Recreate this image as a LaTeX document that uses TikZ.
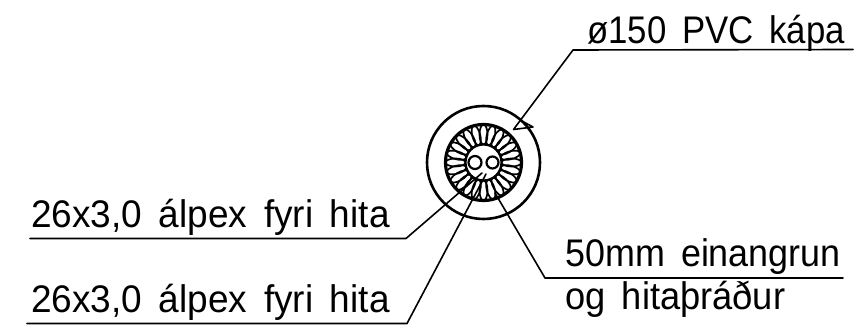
\documentclass[tikz,border=0pt]{standalone}
\usepackage{fontspec}
\setmainfont[WordSpace=1.62]{Liberation Sans}
\tikzset{
  lbl/.style={anchor=base west,inner sep=0pt,font=\fontsize{37}{37}\selectfont},
  shelf/.style={line width=1.6pt,line cap=round,line join=round},
  ring/.style={draw,circle,inner sep=0pt,line width=2.6pt},
  strand/.style={draw,line width=1.7pt},
}
\begin{document}
\begin{tikzpicture}[x=1pt,y=-1pt]
\useasboundingbox (0,0) rectangle (854,328);
% strands
\foreach \a in {0,15,...,350}{
  \draw[strand,shift={(483.5,162.5)},rotate=\a] (28,0) ellipse [x radius=10,y radius=4];
}
% cable
\node[ring,minimum size=113pt] (outer) at (483.5,162.5) {};
\node[ring,minimum size=76pt,line width=3.2pt] (inner) at (483.5,162.5) {};
\node[ring,minimum size=36pt,line width=2.2pt,fill=white] (core) at (483.5,162.5) {};
\node[ring,minimum size=13pt,line width=2.2pt] (c1) at (475,162.5) {};
\node[ring,minimum size=12pt,line width=2.2pt] (c2) at (492.5,162.5) {};
% labels
\node[lbl] (t1) at (587,43.5) {\scalebox{.94}[1.04]{ø150 PVC kápa}};
\node[lbl] (t2) at (31,228) {\scalebox{1}[1.04]{26x3,0 álpex fyri hita}};
\node[lbl] (t3) at (31,313) {\scalebox{1}[1.04]{26x3,0 álpex fyri hita}};
\node[lbl] (t4) at (565,267) {\scalebox{.97}[1.04]{50mm einangrun}};
\node[lbl] (t5) at (565,310) {\scalebox{.98}[1.04]{og hitaþráður}};
% leaders
\coordinate (a0) at (853,49.5);
\coordinate (a1) at (573,50);
\coordinate (a2) at (513.5,129.5);
\coordinate (a3) at (520,120);
\coordinate (a4) at (533,127);
\coordinate (b0) at (30,238.5);
\coordinate (b1) at (406,238.5);
\coordinate (b2) at (482,173);
\coordinate (c0) at (27,323.5);
\coordinate (c1e) at (407,323.5);
\coordinate (c2e) at (486,174);
\coordinate (d0) at (843,278);
\coordinate (d1) at (545,278);
\coordinate (d2) at (495,193);
\draw[shelf] (a0) -- (a1) -- (a2) -- (a4) -- (a3);
\draw[shelf] (b0) -- (b1) -- (b2);
\draw[shelf] (c0) -- (c1e) -- (c2e);
\draw[shelf] (d0) -- (d1) -- (d2);
\end{tikzpicture}
\end{document}
